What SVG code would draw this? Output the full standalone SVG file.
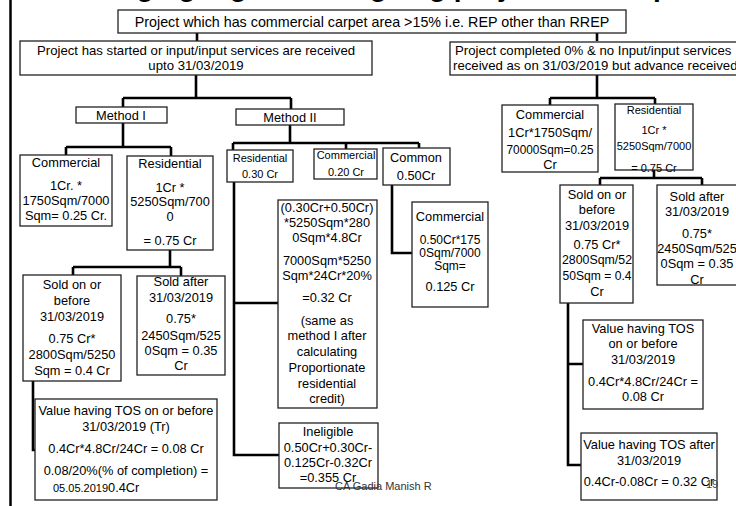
<svg xmlns="http://www.w3.org/2000/svg" width="736" height="506" viewBox="0 0 736 506">
<style>
text{font-family:"Liberation Sans",Arial,sans-serif;fill:#000;}
.t{font-size:12.8px;text-anchor:middle;}
.tl{font-size:12.8px;}
.s{font-size:11px;text-anchor:middle;}
.b{fill:#fff;stroke:#222;stroke-width:1.3;}
.c{fill:none;stroke:#000;stroke-width:2.6;}
.title{font-size:28px;font-weight:bold;text-anchor:middle;}
</style>
<rect width="736" height="506" fill="#fff"/>
<line x1="10.5" y1="0" x2="10.5" y2="506" stroke="#000" stroke-width="2.5"/>
<text class="title" x="380" y="-4">Changing regime in ongoing project – Example</text>

<g id="connectors">
<path class="c" d="M197,33 V41"/>
<path class="c" d="M597,33 V41"/>
<path class="c" d="M196,75 V98 M123,98 H291 M123,98 V107 M291,98 V109"/>
<path class="c" d="M123,123 V147 M66,147 H171 M66,147 V155 M171,147 V156"/>
<path class="c" d="M170,250 V267 M73,267 H181 M73,267 V275 M181,267 V276"/>
<path class="c" d="M33,381 V450 H35"/>
<path class="c" d="M290,125 V143 M233,143 H419 M233,143 V150 M346,143 V149 M419,143 V148"/>
<path class="c" d="M234,182 V455 H279 M234,303 H278"/>
<path class="c" d="M392,185 V253 H412"/>
<path class="c" d="M597,75 V98 M550,98 H655 M550,98 V105 M655,98 V104"/>
<path class="c" d="M654,170 V178 M600,178 H702 M600,178 V185 M702,178 V185"/>
<path class="c" d="M568,303 V465 H581 M568,364 H583"/>
</g>

<g id="n-top">
<rect class="b" x="118" y="10" width="508" height="23"/>
<text class="t" x="372" y="27" style="font-size:14.3px">Project which has commercial carpet area &gt;15% i.e. REP other than RREP</text>
</g>

<g id="n-started">
<rect class="b" x="20" y="41" width="352" height="34"/>
<text class="t" x="196" y="55" style="font-size:13.2px">Project has started or input/input services are received</text>
<text class="t" x="196" y="70" style="font-size:13.2px">upto 31/03/2019</text>
</g>

<g id="n-zero">
<rect class="b" x="450" y="42" width="300" height="33"/>
<text class="tl" x="455" y="55" style="font-size:13.2px">Project completed 0% &amp; no Input/input services</text>
<text class="tl" x="453" y="70" style="font-size:13.2px">received as on 31/03/2019 but advance received</text>
</g>

<g id="n-m1">
<rect class="b" x="76" y="107" width="91" height="16"/>
<text class="t" x="121" y="120">Method I</text>
</g>

<g id="n-m2">
<rect class="b" x="236" y="109" width="108" height="16"/>
<text class="t" x="290" y="122">Method II</text>
</g>

<g id="n-m1-com">
<rect class="b" x="20" y="155" width="92" height="71"/>
<text class="t" x="66" y="167">Commercial</text>
<text class="t" x="66" y="190">1Cr. *</text>
<text class="t" x="66" y="205">1750Sqm/7000</text>
<text class="t" x="66" y="220">Sqm= 0.25 Cr.</text>
</g>

<g id="n-m1-res">
<rect class="b" x="127" y="156" width="86" height="94"/>
<text class="t" x="170" y="168">Residential</text>
<text class="t" x="170" y="192">1Cr *</text>
<text class="t" x="170" y="206">5250Sqm/700</text>
<text class="t" x="170" y="221">0</text>
<text class="t" x="170" y="245">= 0.75 Cr</text>
</g>

<g id="n-m1-sold-before">
<rect class="b" x="23" y="275" width="98" height="106"/>
<text class="t" x="72" y="289">Sold on or</text>
<text class="t" x="72" y="305">before</text>
<text class="t" x="72" y="321">31/03/2019</text>
<text class="t" x="72" y="343">0.75 Cr*</text>
<text class="t" x="72" y="359">2800Sqm/5250</text>
<text class="t" x="72" y="375">Sqm = 0.4 Cr</text>
</g>

<g id="n-m1-sold-after">
<rect class="b" x="137" y="276" width="88" height="99"/>
<text class="t" x="181" y="286">Sold after</text>
<text class="t" x="181" y="302">31/03/2019</text>
<text class="t" x="181" y="323">0.75*</text>
<text class="t" x="181" y="340">2450Sqm/525</text>
<text class="t" x="181" y="355">0Sqm = 0.35</text>
<text class="t" x="181" y="370">Cr</text>
</g>

<g id="n-m1-tos">
<rect class="b" x="35" y="399" width="182" height="101"/>
<text class="t" x="126" y="415">Value having TOS on or before</text>
<text class="t" x="126" y="431">31/03/2019 (Tr)</text>
<text class="t" x="126" y="453">0.4Cr*4.8Cr/24Cr = 0.08 Cr</text>
<text class="t" x="126" y="475">0.08/20%(% of completion) =</text>
<text x="53" y="492" style="font-size:11px">05.05.2019<tspan style="font-size:12.8px">0.4Cr</tspan></text>
</g>

<g id="n-m2-res">
<rect class="b" x="227" y="150" width="66" height="32"/>
<text class="s" x="260" y="162">Residential</text>
<text class="s" x="260" y="178">0.30 Cr</text>
</g>

<g id="n-m2-com">
<rect class="b" x="314" y="149" width="63" height="30"/>
<text class="s" x="346" y="159">Commercial</text>
<text class="s" x="346" y="176">0.20 Cr</text>
</g>

<g id="n-m2-common">
<rect class="b" x="383" y="148" width="67" height="37"/>
<text class="t" x="416" y="162">Common</text>
<text class="t" x="416" y="180">0.50Cr</text>
</g>

<g id="n-m2-formula">
<rect class="b" x="278" y="200" width="99" height="208"/>
<text class="t" x="327" y="212">(0.30Cr+0.50Cr)</text>
<text class="t" x="327" y="227">*5250Sqm*280</text>
<text class="t" x="327" y="242">0Sqm*4.8Cr</text>
<text class="t" x="327" y="265">7000Sqm*5250</text>
<text class="t" x="327" y="280">Sqm*24Cr*20%</text>
<text class="t" x="327" y="302">=0.32 Cr</text>
<text class="t" x="327" y="325">(same as</text>
<text class="t" x="327" y="340">method I after</text>
<text class="t" x="327" y="356">calculating</text>
<text class="t" x="327" y="372">Proportionate</text>
<text class="t" x="327" y="388">residential</text>
<text class="t" x="327" y="403">credit)</text>
</g>

<g id="n-m2-common-com">
<rect class="b" x="412" y="202" width="76" height="105"/>
<text class="t" x="450" y="221">Commercial</text>
<text class="t" x="450" y="244" style="font-size:12px">0.50Cr*175</text>
<text class="t" x="450" y="257" style="font-size:12px">0Sqm/7000</text>
<text class="t" x="450" y="270" style="font-size:12px">Sqm=</text>
<text class="t" x="450" y="291">0.125 Cr</text>
</g>

<g id="n-m2-inel">
<rect class="b" x="279" y="423" width="99" height="65"/>
<text class="t" x="328" y="436">Ineligible</text>
<text class="t" x="328" y="452">0.50Cr+0.30Cr-</text>
<text class="t" x="328" y="467">0.125Cr-0.32Cr</text>
<text class="t" x="328" y="482">=0.355 Cr</text>
</g>

<g id="n-r-com">
<rect class="b" x="502" y="105" width="96" height="67"/>
<text class="t" x="550" y="119">Commercial</text>
<text class="t" x="550" y="137">1Cr*1750Sqm/</text>
<text class="t" x="550" y="154" textLength="87" lengthAdjust="spacingAndGlyphs">70000Sqm=0.25</text>
<text class="t" x="550" y="169">Cr</text>
</g>

<g id="n-r-res">
<rect class="b" x="615" y="104" width="78" height="66"/>
<text class="s" x="654" y="114">Residential</text>
<text class="s" x="654" y="134">1Cr *</text>
<text class="s" x="654" y="150">5250Sqm/7000</text>
<text class="s" x="654" y="172">= 0.75 Cr</text>
</g>

<g id="n-r-sold-before">
<rect class="b" x="560" y="185" width="73" height="118"/>
<text class="t" x="597" y="199">Sold on or</text>
<text class="t" x="597" y="214">before</text>
<text class="t" x="597" y="230">31/03/2019</text>
<text class="t" x="597" y="249">0.75 Cr*</text>
<text class="t" x="597" y="264" textLength="70" lengthAdjust="spacingAndGlyphs">2800Sqm/52</text>
<text class="t" x="597" y="280" textLength="69" lengthAdjust="spacingAndGlyphs">50Sqm = 0.4</text>
<text class="t" x="597" y="296">Cr</text>
</g>

<g id="n-r-sold-after">
<rect class="b" x="657" y="185" width="100" height="100"/>
<text class="t" x="697" y="201">Sold after</text>
<text class="t" x="697" y="216">31/03/2019</text>
<text class="t" x="697" y="238">0.75*</text>
<text class="t" x="697" y="253">2450Sqm/525</text>
<text class="t" x="697" y="268">0Sqm = 0.35</text>
<text class="t" x="697" y="284">Cr</text>
</g>

<g id="n-r-tos-before">
<rect class="b" x="583" y="320" width="120" height="89"/>
<text class="t" x="643" y="333">Value having TOS</text>
<text class="t" x="643" y="348">on or before</text>
<text class="t" x="643" y="364">31/03/2019</text>
<text class="t" x="643" y="386">0.4Cr*4.8Cr/24Cr =</text>
<text class="t" x="643" y="401">0.08 Cr</text>
</g>

<g id="n-r-tos-after">
<rect class="b" x="581" y="433" width="136" height="67"/>
<text class="t" x="649" y="449">Value having TOS after</text>
<text class="t" x="649" y="465">31/03/2019</text>
<text class="t" x="649" y="486">0.4Cr-0.08Cr = 0.32 Cr</text>
</g>

<text x="335" y="490" style="font-size:11px;fill:#333">CA Gadia Manish R</text>
<text x="706" y="488" style="font-size:11px;fill:#444">19</text>
</svg>
